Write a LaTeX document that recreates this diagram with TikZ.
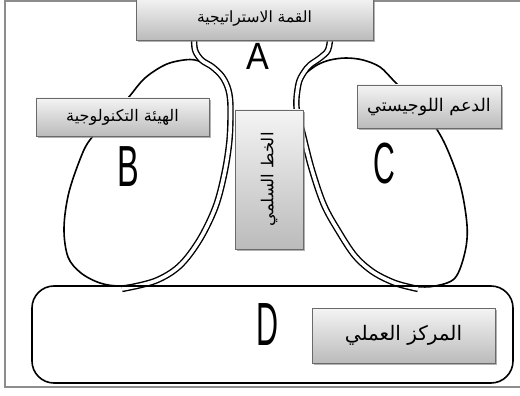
\documentclass[tikz,border=0pt]{standalone}
\usepackage{fontspec}
\TeXXeTstate=1
\newfontfamily\arabicfont[Script=Arabic]{DejaVu Sans}
\newfontfamily\letterfont{Liberation Sans}
\usetikzlibrary{shadows}
\definecolor{framegray}{HTML}{8C8C8C}
\definecolor{boxtop}{HTML}{F4F4F4}
\definecolor{boxbot}{HTML}{BBBBBB}
\definecolor{boxedge}{HTML}{6A6A6A}
\begin{document}
\begin{tikzpicture}[x=1pt,y=-1pt,
  lbl/.style={draw=boxedge, line width=0.7pt, top color=boxtop, bottom color=boxbot,
    drop shadow={shadow xshift=1.6pt, shadow yshift=-1.6pt, fill=black!50, opacity=0.6},
    inner sep=0pt, align=center},
  letter/.style={inner sep=0pt, text=black},
  outline/.style={line width=1.6pt, black, line join=round, line cap=round},
  twin/.style={line width=1.4pt, black, double=white, double distance=3.6pt, line join=round}]
\useasboundingbox (0,0) rectangle (520,396);
\fill[white] (0,0) rectangle (520,396);
% outer frame
\draw[framegray, line width=1.5pt] (521,1) -- (5,1) -- (5,387) -- (521,387);
% lobe B: single outline, then double flank joining the apex
\draw[outline] plot[smooth, tension=0.55] coordinates {(145,283) (120,286) (100,283) (81,273) (68,257) (64,228) (69,192) (83,152) (93,136) (109,118) (128,98) (145,78) (167,64) (190,59.5) (204,63) (213,68)};
\draw[twin] plot[smooth, tension=0.55] coordinates {(194,36) (195,50) (201.5,60) (212.5,67) (222.5,77) (228.5,90) (230.5,107) (229.5,140) (224.5,173) (215.5,207) (199.5,240) (179.5,266) (155,281) (122,289)};
% lobe C
\draw[outline] plot[smooth, tension=0.55] coordinates {(393,282) (415,286.5) (435,286) (455,278) (465,252) (467,225) (460,184) (444,142) (426,114) (408,95) (394,81) (380,67) (363,60) (346,58) (330,60) (317,65) (306,73)};
\draw[twin] plot[smooth, tension=0.55] coordinates {(330.5,36) (328,50) (320,58) (310,65) (303.5,73) (298.5,84) (296.5,107) (303,135) (312,170) (324,205) (339,232) (355,256) (373,272) (395,283) (418,289)};
% operating core outline
\draw[outline, rounded corners=22pt] (32,286) rectangle (513,383);
% label boxes
\node[lbl, minimum width=237pt, minimum height=42pt, font=\arabicfont\fontsize{15.5}{17}\selectfont] (apex) at (254.5,19) {\beginR القمة الاستراتيجية\endR};
\node[lbl, minimum width=173pt, minimum height=38pt, font=\arabicfont\fontsize{16}{18}\selectfont] (techno) at (122.5,117) {\beginR الهيئة التكنولوجية\endR};
\node[lbl, minimum width=144pt, minimum height=43pt, font=\arabicfont\fontsize{17.5}{19}\selectfont] (support) at (429,106.5) {\beginR الدعم اللوجيستي\endR};
\node[lbl, minimum width=68pt, minimum height=139pt] (middle) at (269,179.5) {};
\node[rotate=90, inner sep=0pt, font=\arabicfont\fontsize{16.5}{18}\selectfont] (middletext) at (middle.center) {\beginR الخط السلمي\endR};
\node[lbl, minimum width=183pt, minimum height=55pt, font=\arabicfont\fontsize{20}{22}\selectfont] (operating) at (403.5,335.5) {\beginR المركز العملي\endR};
% letters
\node[letter, font=\letterfont\fontsize{38}{38}\selectfont, xscale=0.9] (la) at (258,56) {A};
\node[letter, font=\letterfont\fontsize{58}{58}\selectfont, xscale=0.56] (lb) at (128,167) {B};
\node[letter, font=\letterfont\fontsize{58}{58}\selectfont, xscale=0.52] (lc) at (384,164) {C};
\node[letter, font=\letterfont\fontsize{61}{61}\selectfont, xscale=0.5] (ld) at (268,325) {D};
\end{tikzpicture}
\end{document}
